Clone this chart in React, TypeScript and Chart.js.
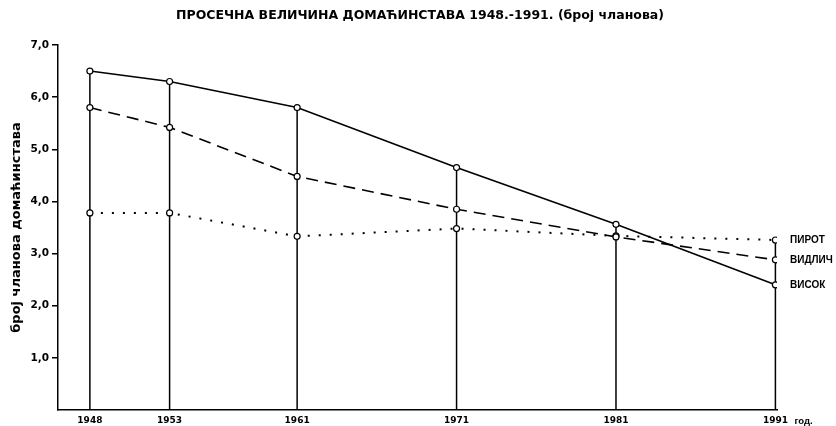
import React, { useEffect, useRef } from "react";
import { Chart, registerables } from "chart.js";

Chart.register(...registerables);

const years = [1948, 1953, 1961, 1971, 1981, 1991];
const visok = [6.5, 6.3, 5.8, 4.65, 3.56, 2.4];
const vidlich = [5.8, 5.42, 4.48, 3.85, 3.32, 2.88];
const pirot = [3.78, 3.78, 3.33, 3.48, 3.34, 3.26];
const yTicks = [1, 2, 3, 4, 5, 6, 7];
const seriesNames = ["ВИСОК", "ВИДЛИЧ", "ПИРОТ"];
const chartTitle = "ПРОСЕЧНА ВЕЛИЧИНА ДОМАЋИНСТАВА 1948.-1991. (број чланова)";
const yTitle = "број чланова домаћинстава";
const xUnit = "год.";

const FONT = "'Liberation Sans', Arial, sans-serif";
const WIDE = "'DejaVu Sans', 'Liberation Sans', sans-serif";

export default function App() {
  const ref = useRef<HTMLCanvasElement | null>(null);

  useEffect(() => {
    document.body.style.margin = "0";
    const canvas = ref.current;
    if (!canvas) return;

    const series = [visok, vidlich, pirot];

    const dropLines = {
      id: "dropLines",
      beforeDatasetsDraw(chart: any) {
        const { ctx } = chart;
        const xs = chart.scales.x;
        const ys = chart.scales.y;
        ctx.save();
        ctx.strokeStyle = "#000";
        ctx.lineWidth = 1.5;
        years.forEach((yr, i) => {
          const top = Math.max(visok[i], vidlich[i], pirot[i]);
          const px = xs.getPixelForValue(yr);
          ctx.beginPath();
          ctx.moveTo(px, ys.getPixelForValue(0));
          ctx.lineTo(px, ys.getPixelForValue(top));
          ctx.stroke();
        });
        ctx.restore();
      },
    };

    const labels = {
      id: "sideLabels",
      afterDraw(chart: any) {
        const { ctx, chartArea, width } = chart;
        const xs = chart.scales.x;
        const ys = chart.scales.y;
        const last = years.length - 1;
        ctx.save();
        ctx.fillStyle = "#000";
        ctx.textBaseline = "middle";
        ctx.textAlign = "center";
        ctx.font = `bold 12.5px ${WIDE}`;
        ctx.fillText(chartTitle, width / 2 + 2, 16);
        ctx.textAlign = "left";
        ctx.font = `bold 10px ${FONT}`;
        series.forEach((s, k) => {
          ctx.fillText(seriesNames[k], chartArea.right + 13, ys.getPixelForValue(s[last]));
        });
        ctx.font = `bold 9.5px ${FONT}`;
        ctx.fillText(xUnit, xs.getPixelForValue(years[last]) + 19, chartArea.bottom + 11);
        ctx.restore();
      },
    };

    const chart = new Chart(canvas, {
      type: "line",
      data: {
        datasets: [
          {
            label: seriesNames[0],
            data: years.map((x, i) => ({ x, y: visok[i] })),
            borderColor: "#000",
            borderWidth: 1.6,
          },
          {
            label: seriesNames[1],
            data: years.map((x, i) => ({ x, y: vidlich[i] })),
            borderColor: "#000",
            borderWidth: 1.6,
            borderDash: [12, 7],
          },
          {
            label: seriesNames[2],
            data: years.map((x, i) => ({ x, y: pirot[i] })),
            borderColor: "#000",
            borderWidth: 2,
            borderDash: [2, 9],
          },
        ].map((d) => ({
          ...d,
          pointRadius: 3,
          pointBackgroundColor: "#fff",
          pointBorderColor: "#000",
          pointBorderWidth: 1.2,
          tension: 0,
          fill: false,
        })),
      },
      options: {
        responsive: false,
        animation: false,
        layout: { padding: { left: 0, right: 59, top: 45, bottom: 0 } },
        plugins: {
          legend: { display: false },
          tooltip: { enabled: false },
          title: { display: false },
        },
        scales: {
          x: {
            type: "linear",
            min: 1946,
            max: 1991.1,
            afterBuildTicks: (scale: any) => {
              scale.ticks = years.map((v) => ({ value: v }));
            },
            afterFit: (scale: any) => {
              scale.height = 16;
            },
            ticks: {
              autoSkip: false,
              maxRotation: 0,
              color: "#000",
              padding: 5,
              font: { family: WIDE, size: 9, weight: "bold" },
              callback: (v: any) => String(v),
            },
            grid: { drawOnChartArea: false, drawTicks: false },
            border: { color: "#000", width: 1.5 },
          },
          y: {
            min: 0,
            max: 7,
            afterBuildTicks: (scale: any) => {
              scale.ticks = yTicks.map((v) => ({ value: v }));
            },
            afterFit: (scale: any) => {
              scale.width = 58;
            },
            ticks: {
              color: "#000",
              padding: 3,
              font: { family: WIDE, size: 10.5, weight: "bold" },
              callback: (v: any) => Number(v).toFixed(1).replace(".", ","),
            },
            grid: {
              drawOnChartArea: false,
              drawTicks: true,
              tickLength: 6,
              color: "#000",
              lineWidth: 1.5,
            },
            border: { color: "#000", width: 1.5 },
            title: {
              display: true,
              text: yTitle,
              color: "#000",
              font: { family: WIDE, size: 13, weight: "bold" },
              padding: { top: 9, bottom: 0 },
            },
          },
        },
      },
      plugins: [dropLines, labels],
    } as any);

    return () => chart.destroy();
  }, []);

  return (
    <div style={{ position: "absolute", left: 0, top: 0, width: 836, height: 426 }}>
      <canvas ref={ref} width={836} height={426} />
    </div>
  );
}
